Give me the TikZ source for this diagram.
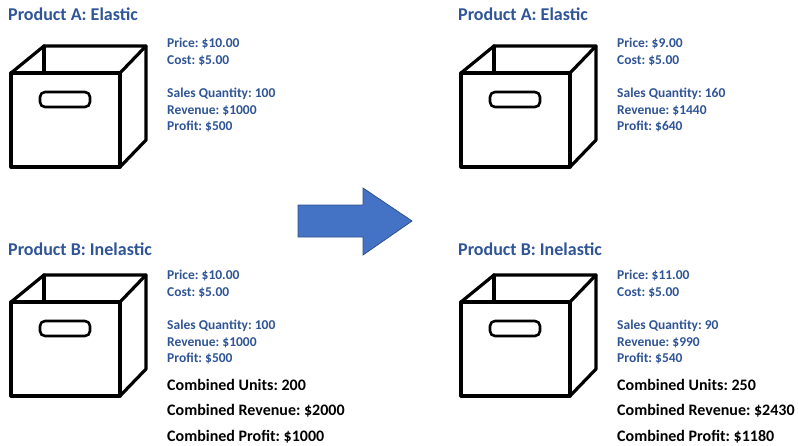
\documentclass[tikz,border=0pt]{standalone}
\usepackage{fontspec}
\setmainfont{Carlito}
\usetikzlibrary{positioning}
\definecolor{titleblue}{HTML}{2F5597}
\definecolor{arrowblue}{HTML}{4472C4}
\frenchspacing
\tikzset{
  crate/.style={line width=3.2pt, line join=round, line cap=round},
  title/.style={anchor=west, inner sep=0pt, text=titleblue, font=\bfseries\fontsize{18}{20}\selectfont},
  info/.style={anchor=north west, inner sep=0pt, text=titleblue, align=left, font=\bfseries\fontsize{13.5}{16.5}\selectfont},
  total/.style={anchor=north west, inner sep=0pt, align=left, font=\bfseries\fontsize{16}{25.5}\selectfont}
}
% a crate with its top-left front corner at (#1,#2)
\newcommand{\crate}[2]{%
  \begin{scope}[shift={(#1,#2)}]
    \draw[crate] (0,0) rectangle (109,94);
    \draw[crate] (0,0) -- (33,-27) -- (135,-27) -- (109,0);
    \draw[crate] (33,-27) -- (33,0);
    \draw[crate] (135,-27) -- (135,67) -- (109,94);
    \draw[crate, line width=2.6pt, rounded corners=5pt] (29,19) rectangle (79,34);
  \end{scope}}
\begin{document}
\begin{tikzpicture}[x=1pt, y=-1pt]
  \useasboundingbox (0,0) rectangle (798,445);

  % left side
  \node[title] (tA) at (8,14) {Product A: Elastic};
  \crate{11}{73}
  \node[info] (iA) at (167,38) {Price: \$10.00\\Cost: \$5.00\\[17pt]Sales Quantity: 100\\Revenue: \$1000\\Profit: \$500};
  \node[title] (tB) at (8,249) {Product B: Inelastic};
  \crate{11}{302}
  \node[info] (iB) at (167,270) {Price: \$10.00\\Cost: \$5.00\\[17pt]Sales Quantity: 100\\Revenue: \$1000\\Profit: \$500};
  \node[total] (cL) at (167,379) {Combined Units: 200\\Combined Revenue: \$2000\\Combined Profit: \$1000};

  % the arrow
  \fill[arrowblue, draw=arrowblue!70!black, line width=0.8pt]
    (298,205) -- (363,205) -- (363,188) -- (412,221) -- (363,255) -- (363,237) -- (298,237) -- cycle;

  % right side
  \node[title] (tA2) at (458,14) {Product A: Elastic};
  \crate{461}{73}
  \node[info] (iA2) at (617,38) {Price: \$9.00\\Cost: \$5.00\\[17pt]Sales Quantity: 160\\Revenue: \$1440\\Profit: \$640};
  \node[title] (tB2) at (458,249) {Product B: Inelastic};
  \crate{461}{302}
  \node[info] (iB2) at (617,270) {Price: \$11.00\\Cost: \$5.00\\[17pt]Sales Quantity: 90\\Revenue: \$990\\Profit: \$540};
  \node[total] (cR) at (617,379) {Combined Units: 250\\Combined Revenue: \$2430\\Combined Profit: \$1180};
\end{tikzpicture}
\end{document}
